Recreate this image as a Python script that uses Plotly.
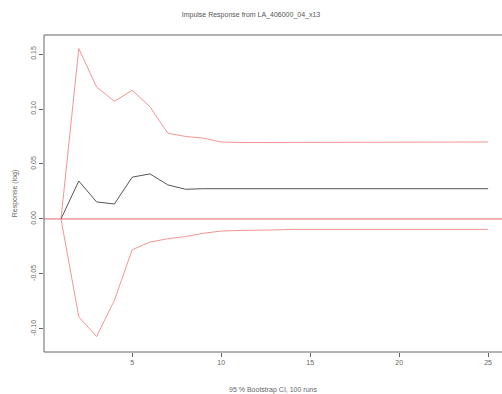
import plotly.graph_objects as go

steps = list(range(1, 26))
response = [0.0, 0.0345, 0.0155, 0.0136, 0.038, 0.041, 0.031, 0.027, 0.0275, 0.0275,
            0.0275, 0.0275, 0.0275, 0.0275, 0.0275, 0.0275, 0.0275, 0.0275, 0.0275, 0.0275,
            0.0275, 0.0275, 0.0275, 0.0275, 0.0275]
upper = [0.0, 0.155, 0.12, 0.107, 0.117, 0.102, 0.078, 0.075, 0.0735, 0.07,
         0.0695, 0.0695, 0.07, 0.07, 0.07, 0.07, 0.07, 0.07, 0.07, 0.07,
         0.07, 0.07, 0.07, 0.07, 0.07]
lower = [0.0, -0.089, -0.107, -0.074, -0.028, -0.021, -0.018, -0.016, -0.013, -0.011,
         -0.0105, -0.0105, -0.010, -0.0095, -0.0095, -0.0095, -0.009, -0.009, -0.009, -0.009,
         -0.009, -0.009, -0.0095, -0.0095, -0.0095]
x_ticks = [5, 10, 15, 20, 25]
y_ticks = [-0.10, -0.05, 0.00, 0.05, 0.10, 0.15]
y_tick_labels = ["-0.10", "-0.05", "0.00", "0.05", "0.10", "0.15"]

title = "Impulse Response from LA_406000_04_x13"
x_title = "95 % Bootstrap CI, 100 runs"
y_title = "Response (log)"

red = "rgb(242,150,150)"
fig = go.Figure()
fig.add_trace(go.Scatter(x=steps, y=upper, mode="lines", line=dict(color=red, width=1)))
fig.add_trace(go.Scatter(x=steps, y=lower, mode="lines", line=dict(color=red, width=1)))
fig.add_trace(go.Scatter(x=steps, y=response, mode="lines", line=dict(color="#555555", width=1)))
fig.add_hline(y=0, line=dict(color="rgb(225,100,110)", width=1))

fig.add_shape(type="rect", xref="paper", yref="paper", x0=0, x1=1.05, y0=0, y1=1,
              line=dict(color="#666666", width=1))

font = dict(family="Liberation Sans, Arial", size=7, color="#666666")
fig.update_layout(
    width=502, height=394,
    margin=dict(l=44, r=0, t=35, b=42),
    paper_bgcolor="white", plot_bgcolor="white",
    showlegend=False,
    font=font,
    title=dict(text=title, x=0.5, xanchor="center", y=0.962, yanchor="middle",
               font=dict(family="Liberation Sans, Arial", size=7, color="#555555")),
    xaxis=dict(range=[0.045, 25.78], tickvals=x_ticks, ticks="outside", ticklen=4,
               tickcolor="#666666", showgrid=False, zeroline=False, showline=False,
               tickfont=font,
               title=dict(text=x_title, standoff=22, font=font)),
    yaxis=dict(range=[-0.121, 0.1673], tickvals=y_ticks, ticktext=y_tick_labels,
               ticks="outside", ticklen=4, tickcolor="#666666", tickangle=-90,
               showgrid=False, zeroline=False, showline=False,
               tickfont=font,
               title=dict(text=y_title, standoff=11, font=font)),
)
fig.write_html("out.html")
